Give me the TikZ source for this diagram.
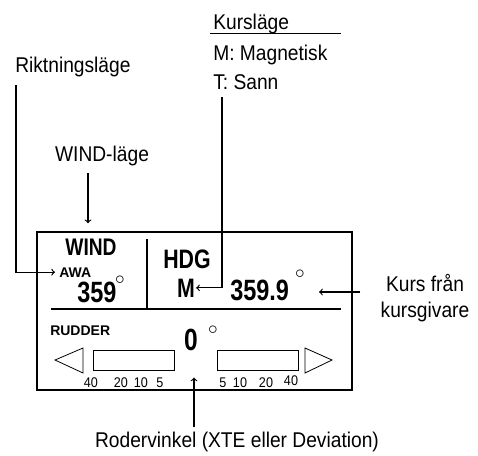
\documentclass[tikz,border=0pt]{standalone}
\usepackage{fontspec}
\setmainfont{Liberation Sans}
\newfontfamily\dispfont[FakeStretch=0.8]{Liberation Sans}
\newfontfamily\lblfont[FakeStretch=0.9]{Liberation Sans}
\usetikzlibrary{arrows, positioning}
\tikzset{
  lbl/.style={inner sep=0pt, font=\lblfont\fontsize{16}{19}\selectfont},
  big/.style={inner sep=0pt, font=\dispfont\bfseries\fontsize{#1}{#1}\selectfont},
  small/.style={inner sep=0pt, font=\bfseries\fontsize{10.5}{12}\selectfont},
  num/.style={inner sep=0pt, font=\lblfont\fontsize{10.5}{12}\selectfont},
  deg/.style={inner sep=0pt, font=\fontsize{15}{15}\selectfont},
  conn/.style={line width=0.9pt, ->, >=to},
  thinline/.style={line width=0.6pt}
}
\begin{document}
\begin{tikzpicture}[x=0.75pt,y=-0.75pt]
\useasboundingbox (0,0) rectangle (478,455);
%labels on top
\node[lbl,anchor=base west] (rikt) at (15,72) {Riktningsläge};
\node[lbl,anchor=base] (windl) at (102,161) {WIND-läge};
\node[lbl,anchor=base west] (kurs) at (213,29) {Kursläge};
\node[lbl,anchor=base west] (magn) at (213,60) {M: Magnetisk};
\node[lbl,anchor=base west] (sann) at (213,89) {T: Sann};
\draw[line width=0.7pt] (210,33) -- (341,33);
%display frame
\draw[line width=1pt] (37,232) rectangle (352,390);
\draw[line width=1pt] (51,309) -- (341,309);
\draw[line width=1pt] (147,239) -- (147,309);
%wind field
\node[big=18,anchor=base] (wind) at (91,255) {WIND};
\node[small,anchor=base west] (awa) at (59,277) {AWA};
\node[big=22,anchor=base west] (awaval) at (77,302) {359};
\node[deg] (dega) at (120,280) {$\circ$};
%heading field
\node[big=20,anchor=base] (hdg) at (187,268) {HDG};
\node[big=20,anchor=base] (mode) at (186,297) {M};
\node[big=22,anchor=base west] (hdgval) at (230,300) {359.9};
\node[deg] (degh) at (300,274) {$\circ$};
%rudder field
\node[small,anchor=base west] (rudder) at (50,335) {RUDDER};
\node[big=23,anchor=base] (rudval) at (191,350) {0};
\node[deg] (degr) at (213,330) {$\circ$};
\draw[thinline] (83,348) -- (55,360) -- (83,373) -- cycle;
\draw[thinline] (93,350) rectangle (174,370);
\draw[thinline] (217,350) rectangle (298,370);
\draw[thinline] (305,348) -- (332,360) -- (305,373) -- cycle;
\foreach \x/\t in {91/40,121/20,141/10,160/5,223/5,240/10,266/20}
  \node[num,anchor=base] at (\x,387) {\t};
\node[num,anchor=base] (rmax) at (291,385) {40};
%labels outside
\node[lbl,align=center] (kursg) at (425,298) {Kurs från\\kursgivare};
\node[lbl,anchor=base] (roder) at (237,447) {Rodervinkel (XTE eller Deviation)};
%arrows
\draw[conn] ([shift={(1,13)}]rikt.base west) |- ([shift={(-4,0)}]awa.west);
\draw[conn] ([shift={(-14,12)}]windl.base) -- ([shift={(-3,-15)}]wind.north);
\draw[conn] ([shift={(9,8)}]sann.base west) |- ([shift={(1,0)}]mode.east);
\draw[conn] ([shift={(-20,-6)}]kursg.west) -- ([shift={(14,18)}]degh.east);
\draw[conn] ([shift={(-43,-4)}]roder.north) -- ([shift={(3,27)}]rudval.south);
\end{tikzpicture}
\end{document}
